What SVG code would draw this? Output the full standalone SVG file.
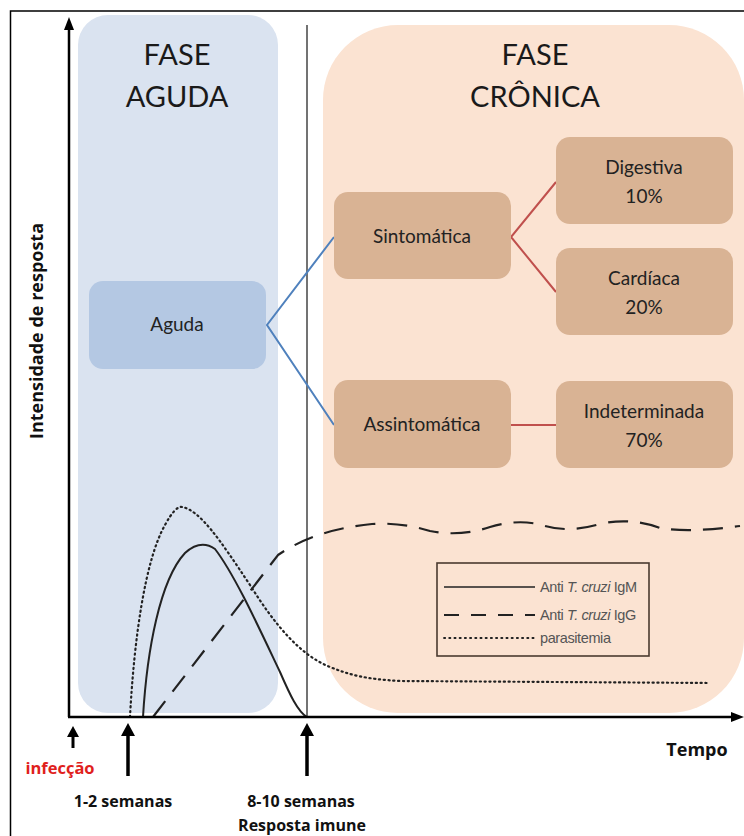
<svg xmlns="http://www.w3.org/2000/svg" width="744" height="836" viewBox="0 0 744 836">
<style>
.t{font-family:Lato,"Open Sans","Liberation Sans",sans-serif;fill:#1a1a1a}
.h{font-size:29px;text-anchor:middle}
.n{font-size:19px;text-anchor:middle;fill:#222}
.b{font-family:"Open Sans","Liberation Sans",sans-serif;font-weight:bold;fill:#111}
.lg{font-family:"Liberation Sans",Arial,sans-serif;font-size:14.5px;fill:#555;letter-spacing:-0.4px}
.ax{stroke:#000;stroke-width:2.5;fill:none}
.pa{fill:#000}
</style>
<rect x="0" y="0" width="744" height="836" fill="#fff"/>
<rect x="10.5" y="11" width="800" height="900" fill="none" stroke="#000" stroke-width="1.5"/>
<g id="panel-aguda">
<rect x="78" y="15" width="200" height="698" rx="30" fill="#dae3f0"/>
<text class="t h" x="177" y="65">FASE</text>
<text class="t h" x="177" y="107">AGUDA</text>
</g>
<g id="panel-cronica">
<rect x="323" y="25" width="421" height="688" rx="75" fill="#fbe3d2"/>
<text class="t h" x="535" y="65">FASE</text>
<text class="t h" x="535" y="107">CRÔNICA</text>
</g>
<line x1="307" y1="25" x2="307" y2="717" stroke="#444" stroke-width="1.5"/>
<g id="connectors" fill="none" stroke-width="2">
<path d="M334,237 L267,325 L334,425" stroke="#4f81bd"/>
<path d="M556,182 L511,237 L556,292" stroke="#c0504d"/>
<path d="M511,425 L556,425" stroke="#c0504d"/>
</g>
<g id="aguda"><rect x="89" y="281" width="177" height="88" rx="14" fill="#b4c8e3"/><text class="t n" x="177" y="331">Aguda</text></g>
<g id="sintomatica"><rect x="334" y="192" width="177" height="87" rx="14" fill="#d9b394"/><text class="t n" x="422" y="243">Sintomática</text></g>
<g id="assintomatica"><rect x="334" y="380" width="177" height="88" rx="14" fill="#d9b394"/><text class="t n" x="422" y="431">Assintomática</text></g>
<g id="digestiva"><rect x="556" y="137" width="177" height="87" rx="14" fill="#d9b394"/><text class="t n" x="644" y="174">Digestiva</text><text class="t n" x="644" y="203">10%</text></g>
<g id="cardiaca"><rect x="556" y="248" width="177" height="87" rx="14" fill="#d9b394"/><text class="t n" x="644" y="285">Cardíaca</text><text class="t n" x="644" y="314">20%</text></g>
<g id="indeterminada"><rect x="556" y="381" width="177" height="87" rx="14" fill="#d9b394"/><text class="t n" x="644" y="418">Indeterminada</text><text class="t n" x="644" y="447">70%</text></g>
<g id="curves" fill="none" stroke="#222">
<path d="M130,717 C134,640 145,560 165,525 C172,512 178,506 182,507 C200,510 220,540 250,585 C275,625 300,655 330,667 C350,675 365,679 400,681 L710,683" stroke-width="2.2" stroke-dasharray="1.2 3.6" stroke-linecap="round"/>
<path d="M143,717 C147,650 160,580 185,553 C195,544 205,542 215,549 C235,575 260,630 280,672 C290,695 298,712 307,717" stroke-width="2"/>
<path d="M153,717 L278,555 C300,540 330,528 372,524 Q400,522 430,531 Q460,537 490,527 Q520,518 545,526 Q570,533 600,524 Q630,517 660,528 Q690,533 740,526" stroke-width="2.2" stroke-dasharray="20 12"/>
</g>
<g id="legend">
<rect x="437" y="563" width="212" height="93" fill="none" stroke="#4a3a30" stroke-width="1.6"/>
<line x1="444" y1="587" x2="535" y2="587" stroke="#222" stroke-width="1.4"/>
<line x1="444" y1="615" x2="535" y2="615" stroke="#222" stroke-width="1.8" stroke-dasharray="15 12"/>
<line x1="444" y1="638" x2="535" y2="638" stroke="#222" stroke-width="1.8" stroke-dasharray="1.2 4" stroke-linecap="round"/>
<text class="lg" x="540" y="592">Anti <tspan font-style="italic">T. cruzi</tspan> IgM</text>
<text class="lg" x="540" y="620">Anti <tspan font-style="italic">T. cruzi</tspan> IgG</text>
<text class="lg" x="540" y="643">parasitemia</text>
</g>
<g id="axes">
<line x1="69" y1="717" x2="69" y2="26" class="ax"/>
<path d="M69,17 L64,30 L74,30 z" class="pa"/>
<line x1="68" y1="717" x2="735" y2="717" class="ax"/>
<path d="M744,717 L731,712 L731,722 z" class="pa"/>
<text class="b" font-size="18" transform="translate(43,331) rotate(-90)" text-anchor="middle">Intensidade de resposta</text>
<text class="b" font-size="18" x="697" y="756" text-anchor="middle">Tempo</text>
</g>
<g id="markers">
<line x1="73" y1="748" x2="73" y2="734" stroke="#000" stroke-width="3"/>
<path d="M73,726 L67,737 L79,737 z" class="pa"/>
<line x1="128" y1="776" x2="128" y2="732" stroke="#000" stroke-width="3.5"/>
<path d="M128,723 L121,736 L135,736 z" class="pa"/>
<line x1="307" y1="776" x2="307" y2="732" stroke="#000" stroke-width="3.5"/>
<path d="M307,723 L300,736 L314,736 z" class="pa"/>
<text class="b" font-size="16.5" x="60" y="774" text-anchor="middle" style="fill:#e0201c">infecção</text>
<text class="b" font-size="16" x="123" y="807" text-anchor="middle">1-2 semanas</text>
<text class="b" font-size="16" x="301" y="807" text-anchor="middle">8-10 semanas</text>
<text class="b" font-size="16" x="302" y="831" text-anchor="middle">Resposta imune</text>
</g>
</svg>
